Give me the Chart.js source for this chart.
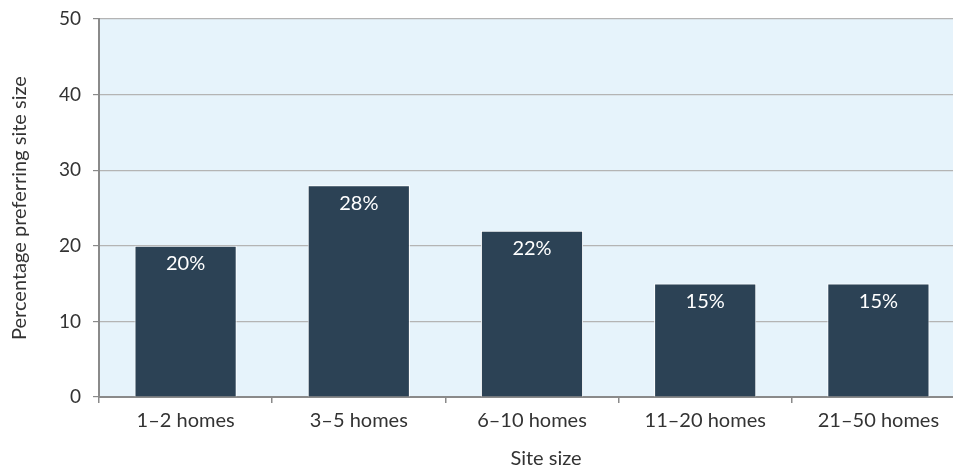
<!DOCTYPE html>
<html>
<head>
<meta charset="utf-8">
<script src="https://cdn.jsdelivr.net/npm/chart.js@4/dist/chart.umd.min.js"></script>
<style>
  html, body { margin: 0; padding: 0; background: #fff; overflow: hidden; }
  #wrap { width: 953px; height: 472px; overflow: hidden; }
</style>
</head>
<body>
<div id="wrap"><canvas id="grafico" width="965" height="472"></canvas></div>
<script>
// datos
const categorias = ['1–2 homes', '3–5 homes', '6–10 homes', '11–20 homes', '21–50 homes'];
const porcentajes = [20, 28, 22, 15, 15];
const etiquetas = ['20%', '28%', '22%', '15%', '15%'];
const ticksY = [0, 10, 20, 30, 40, 50];
const tituloX = 'Site size';
const tituloY = 'Percentage preferring site size';

const colorTexto = '#333333';
const fuente = 'Lato, "Open Sans", sans-serif';

// fondo azul claro del area del grafico
const fondoArea = {
  id: 'fondoArea',
  beforeDraw(chart) {
    const { ctx, chartArea: a } = chart;
    ctx.save();
    ctx.fillStyle = '#e6f3fb';
    ctx.fillRect(a.left, a.top, a.right - a.left, a.bottom - a.top);
    ctx.restore();
  }
};

// etiquetas blancas dentro de las barras + titulo del eje x
const textos = {
  id: 'textos',
  afterDatasetsDraw(chart) {
    const { ctx } = chart;
    const meta = chart.getDatasetMeta(0);
    ctx.save();
    ctx.fillStyle = '#ffffff';
    ctx.font = '20px ' + fuente;
    ctx.textAlign = 'center';
    ctx.textBaseline = 'middle';
    meta.data.forEach((barra, i) => {
      ctx.fillText(etiquetas[i], barra.x, barra.y + 18);
    });
    ctx.restore();
  },
  afterDraw(chart) {
    const { ctx, chartArea: a } = chart;
    ctx.save();
    ctx.fillStyle = colorTexto;
    ctx.font = '20px ' + fuente;
    ctx.textAlign = 'center';
    ctx.textBaseline = 'middle';
    ctx.fillText(tituloX, (a.left + a.right) / 2 + 14, 459);
    ctx.restore();
  }
};

new Chart(document.getElementById('grafico'), {
  type: 'bar',
  data: {
    labels: categorias,
    datasets: [{
      data: porcentajes,
      backgroundColor: '#2c4255',
      borderColor: '#ffffff',
      borderWidth: 1,
      categoryPercentage: 1,
      barPercentage: 0.59
    }]
  },
  options: {
    responsive: false,
    animation: false,
    layout: { padding: { top: 19, right: 0, left: 0, bottom: 0 } },
    plugins: {
      legend: { display: false },
      tooltip: { enabled: false }
    },
    scales: {
      x: {
        afterFit(axis) { axis.height = 75; axis.paddingLeft = 0; axis.paddingRight = 0; },
        grid: {
          display: true,
          drawOnChartArea: false,
          drawTicks: true,
          tickLength: 6,
          color: '#8a8a8a',
          lineWidth: 1.5
        },
        border: { display: true, color: '#8a8a8a', width: 2 },
        ticks: { color: colorTexto, font: { family: fuente, size: 20 }, padding: 6 },
        title: { display: false }
      },
      y: {
        min: 0,
        max: 50,
        afterFit(axis) { axis.width = 99; axis.paddingTop = 0; axis.paddingBottom = 0; },
        afterBuildTicks(axis) { axis.ticks = ticksY.map(v => ({ value: v })); },
        grid: {
          color: '#b4b4b4',
          lineWidth: 1.2,
          drawTicks: true,
          tickLength: 6,
          tickColor: '#8a8a8a'
        },
        border: { display: true, color: '#8a8a8a', width: 2 },
        ticks: { color: colorTexto, font: { family: fuente, size: 19 }, padding: 12 },
        title: {
          display: true,
          text: tituloY,
          color: colorTexto,
          font: { family: fuente, size: 20 },
          padding: { top: 8, bottom: 0 }
        }
      }
    }
  },
  plugins: [fondoArea, textos]
});
</script>
</body>
</html>
